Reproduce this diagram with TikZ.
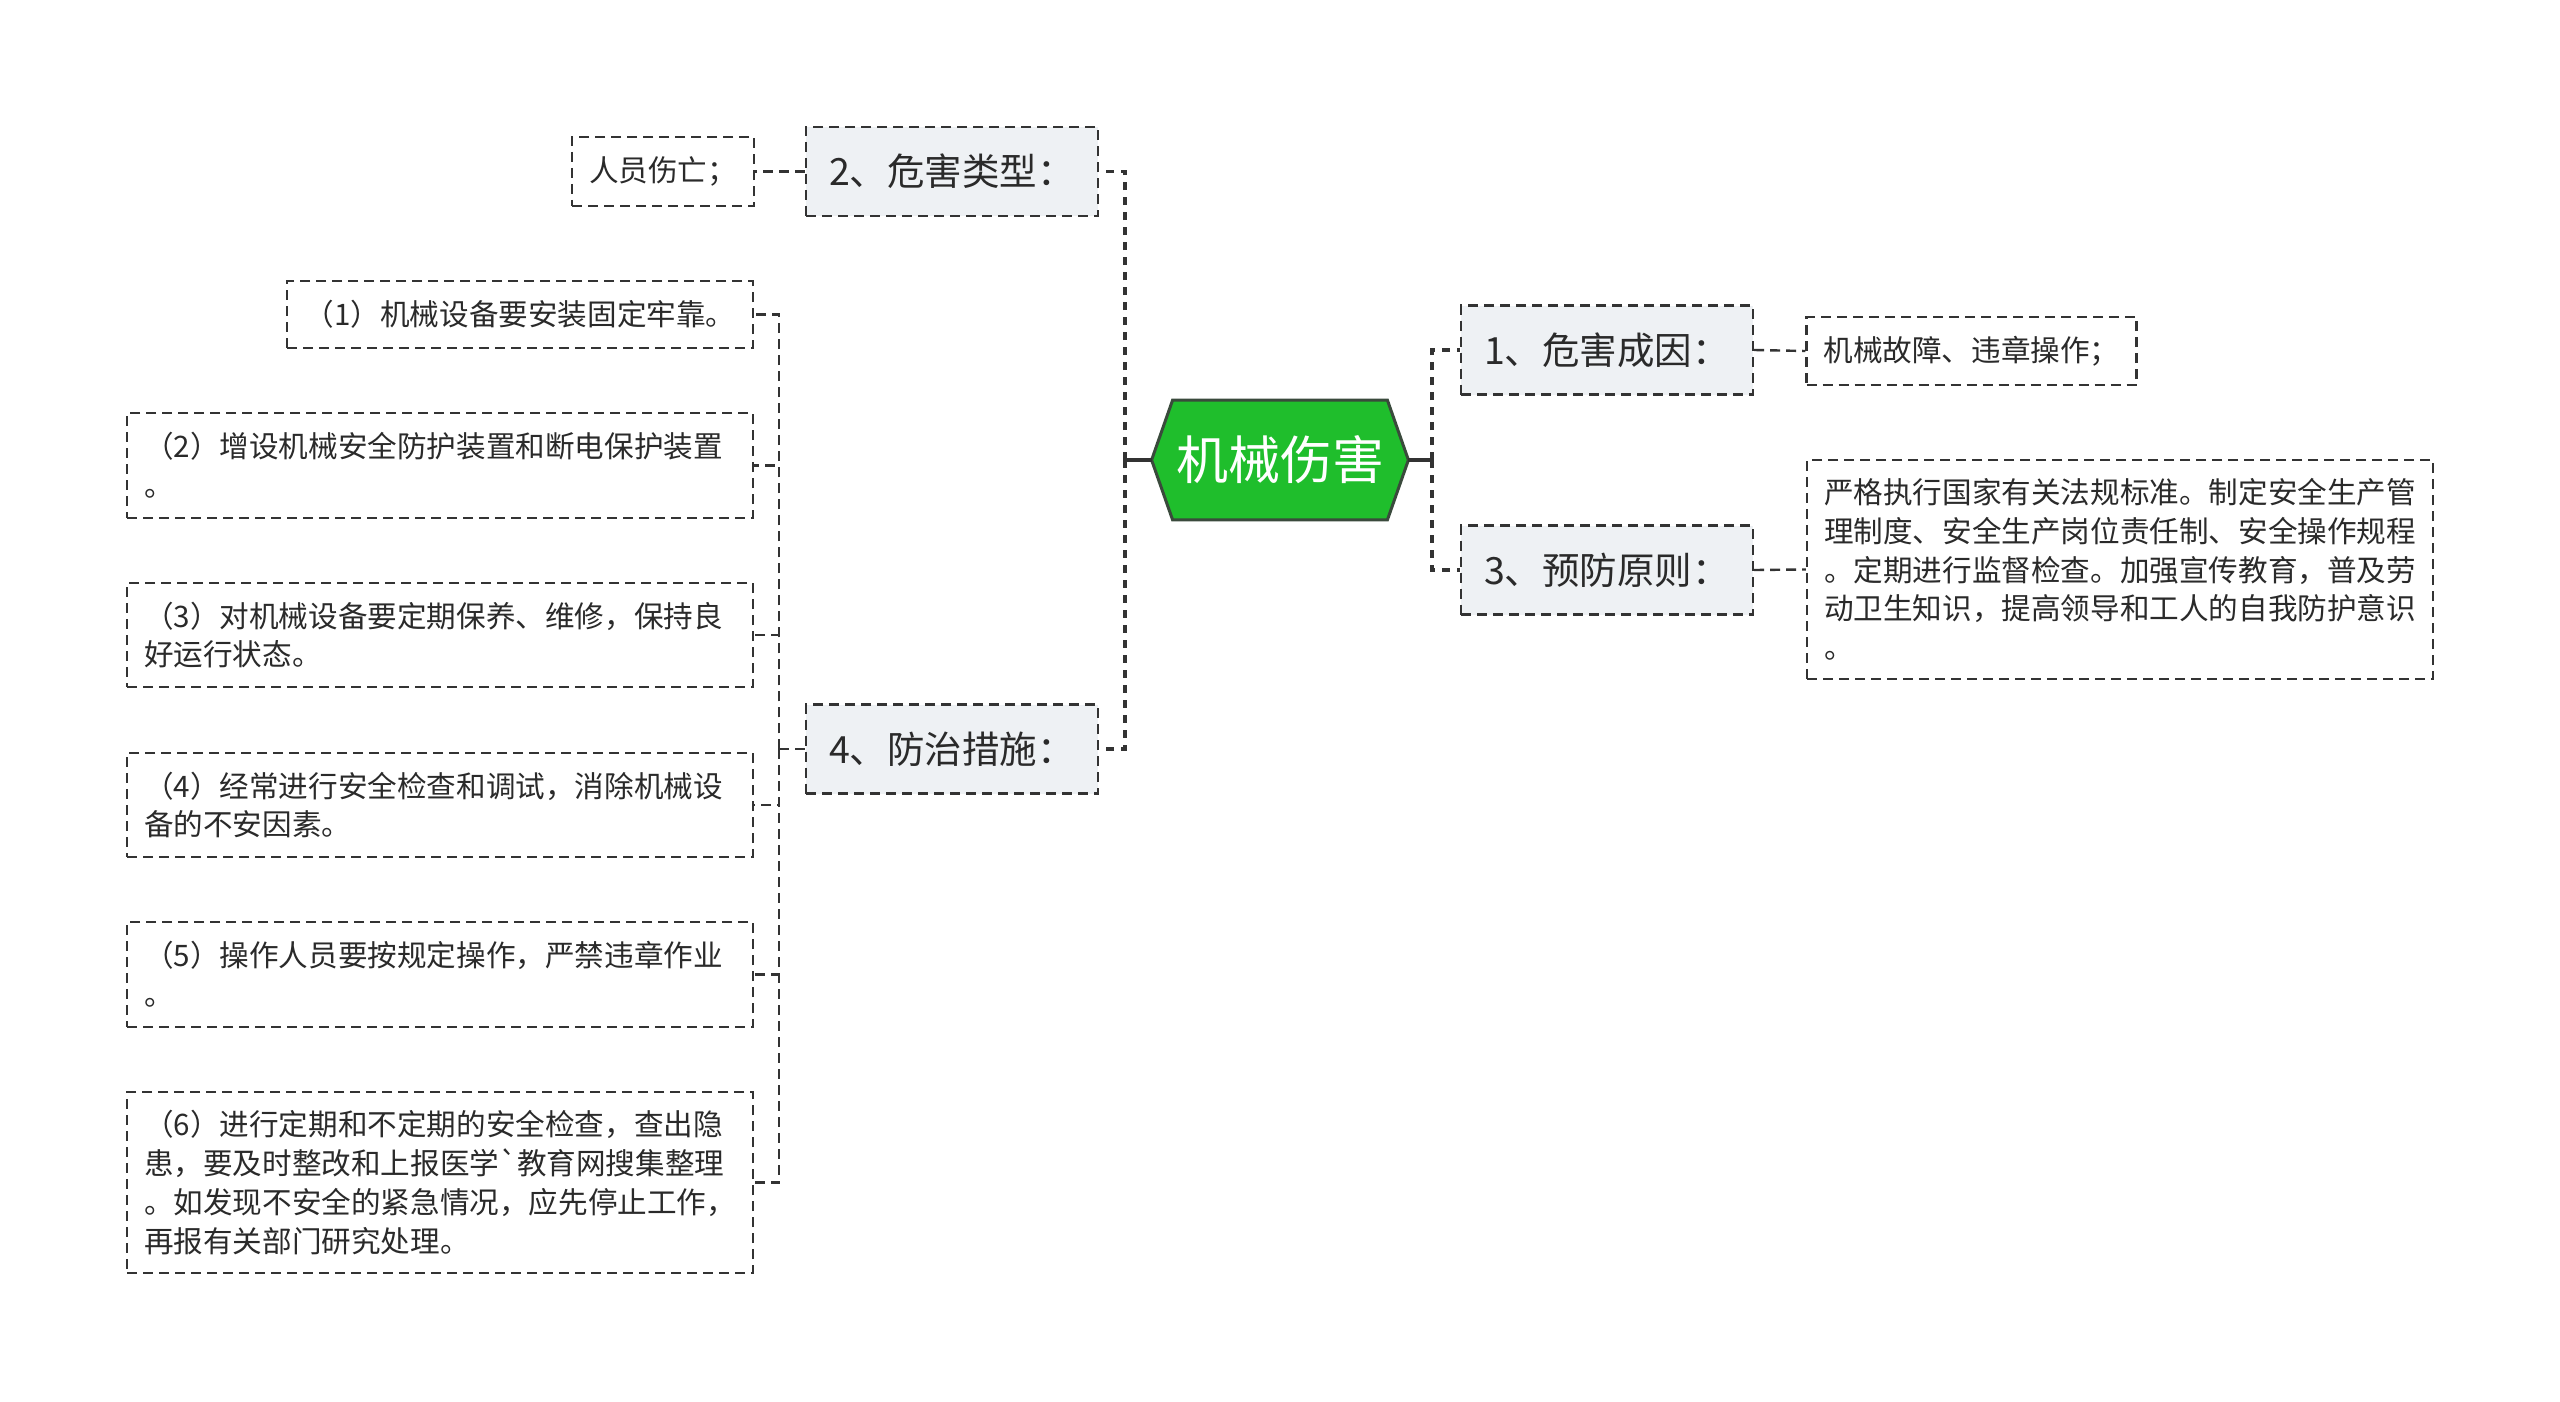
\documentclass[tikz,border=0pt]{standalone}
\usepackage{fontspec}
\setmainfont{Noto Sans CJK SC}
\font\gravefont="Noto Sans CJK SC" at 14.8pt
\usetikzlibrary{backgrounds}
\definecolor{linec}{HTML}{333333}
\definecolor{rootg}{HTML}{1FBE2C}
\definecolor{rootb}{HTML}{3A4A3C}
\definecolor{lvfill}{HTML}{EEF1F4}
\definecolor{txt}{HTML}{2A2A2A}
\tikzset{
  boxdash/.style={dash pattern=on 5pt off 3pt, line width=1.2pt, draw=linec},
  topic/.style={boxdash, fill=lvfill, minimum width=146pt, minimum height=44.5pt, inner sep=0pt, text=txt, font=\fontsize{18.75pt}{22pt}\selectfont},
  leaf/.style={boxdash, fill=white, inner xsep=8.5pt, inner ysep=0pt, text=txt, font=\fontsize{14.8pt}{19.4pt}\selectfont},
  wideleaf/.style={leaf, text width=296pt, align=left},
  trunk/.style={draw=linec, line width=1.75pt, dash pattern=on 4pt off 3.5pt},
  stem/.style={draw=linec, line width=1.75pt},
  twig/.style={draw=linec, line width=1.2pt, dash pattern=on 5pt off 3pt},
  hexa/.style={fill=rootg, draw=rootb, line width=1.5pt, line join=miter},
}
\begin{document}
\begin{tikzpicture}[x=0.5pt,y=-0.5pt]
\useasboundingbox (0,0) rectangle (2560,1402);
% root
\node[minimum width=128pt, minimum height=59.5pt, inner sep=0pt, text=white, font=\fontsize{26pt}{30pt}\selectfont] (root) at (1280,460) {机械伤害};
\begin{scope}[on background layer]
\fill[white] (0,0) rectangle (2560,1402);
\draw[hexa] (root.west) -- ([xshift=10.5pt]root.north west) -- ([xshift=-10.5pt]root.north east) -- (root.east) -- ([xshift=-10.5pt]root.south east) -- ([xshift=10.5pt]root.south west) -- cycle;
\end{scope}
% level 1
\node[topic] (n2) at (952,171.5) {2、危害类型：};
\node[topic] (n4) at (952,749) {4、防治措施：};
\node[topic] (n1) at (1607,350) {1、危害成因：};
\node[topic] (n3) at (1607,570) {3、预防原则：};
% leaves
\node[leaf, minimum width=90pt, minimum height=34.5pt] (l2) at (663,171.5) {人员伤亡；};
\node[leaf, minimum width=164.5pt, minimum height=34pt] (l1) at (1971.5,351) {机械故障、违章操作；};
\node[wideleaf, minimum height=109.5pt] (l3) at (2120,569.5) {严格执行国家有关法规标准。制定安全生产管\\理制度、安全生产岗位责任制、安全操作规程\\。定期进行监督检查。加强宣传教育，普及劳\\动卫生知识，提高领导和工人的自我防护意识\\。};
\node[leaf, minimum width=233pt, minimum height=33.5pt] (c1) at (520,314.5) {（1）机械设备要安装固定牢靠。};
\node[wideleaf, minimum height=52.5pt] (c2) at (440,465.5) {（2）增设机械安全防护装置和断电保护装置\\。};
\node[wideleaf, minimum height=52pt] (c3) at (440,635) {（3）对机械设备要定期保养、维修，保持良\\好运行状态。};
\node[wideleaf, minimum height=52pt] (c4) at (440,805) {（4）经常进行安全检查和调试，消除机械设\\备的不安因素。};
\node[wideleaf, minimum height=52.5pt] (c5) at (440,974.5) {（5）操作人员要按规定操作，严禁违章作业\\。};
\node[wideleaf, minimum height=90.5pt] (c6) at (440,1182.5) {（6）进行定期和不定期的安全检查，查出隐\\患，要及时整改和上报医学{\gravefont`}教育网搜集整理\\。如发现不安全的紧急情况，应先停止工作，\\再报有关部门研究处理。};
% connectors
\coordinate (LT) at (1125,460);
\coordinate (RT) at (1432,460);
\coordinate (ST) at (779,749);
\draw[stem] (root.west) -- (LT);
\draw[stem] (root.east) -- (RT);
\draw[trunk] (LT) |- (n2.east);
\draw[trunk] (LT) |- (n4.east);
\draw[trunk] (RT) |- (n1.west);
\draw[trunk] (RT) |- (n3.west);
\draw[twig] (n2.west) -- (l2.east);
\draw[twig] (n1.east) -- (l1.west);
\draw[twig] (n3.east) -- (l3.west);
\draw[twig] (n4.west) -- (ST);
\draw[twig] (ST) |- (c1.east);
\draw[twig] (ST) |- (c2.east);
\draw[twig] (ST) |- (c3.east);
\draw[twig] (ST) |- (c4.east);
\draw[twig] (ST) |- (c5.east);
\draw[twig] (ST) |- (c6.east);
\end{tikzpicture}
\end{document}
